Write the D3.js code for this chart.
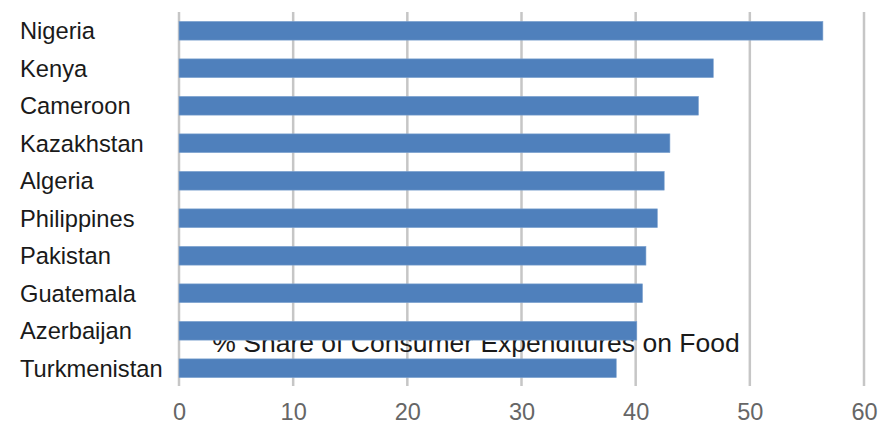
<!DOCTYPE html>
<html>
<head>
<meta charset="utf-8">
<script src="https://cdn.jsdelivr.net/npm/d3@7/dist/d3.min.js"></script>
<style>
  html, body { margin: 0; padding: 0; background: #ffffff; }
  svg { display: block; font-family: "Liberation Sans", Arial, sans-serif; }
</style>
</head>
<body>
<svg id="chart" width="891" height="425"></svg>
<script>
// Countries, top to bottom
const countries = ["Nigeria", "Kenya", "Cameroon", "Kazakhstan", "Algeria",
                   "Philippines", "Pakistan", "Guatemala", "Azerbaijan", "Turkmenistan"];
// % share of consumer expenditures spent on food
const foodShare = [56.4, 46.8, 45.5, 43.0, 42.5, 41.9, 40.9, 40.6, 40.1, 38.3];
const xTicks = [0, 10, 20, 30, 40, 50, 60];
const chartTitle = "% Share of Consumer Expenditures on Food";

const svg = d3.select("#chart");
const plot = { left: 179, right: 864, top: 12, bottom: 387 };

const x = d3.scaleLinear().domain([0, 60]).range([plot.left, plot.right]);
const y = d3.scaleBand().domain(countries).range([plot.top, plot.bottom]).paddingInner(0.5).paddingOuter(0.25);

// vertical gridlines
svg.append("g")
  .selectAll("line")
  .data(xTicks)
  .join("line")
  .attr("x1", d => x(d)).attr("x2", d => x(d))
  .attr("y1", plot.top).attr("y2", plot.bottom - 1)
  .attr("stroke", "#c6c6c6")
  .attr("stroke-width", 2.5);

// tick labels along the bottom
const xAxis = d3.axisBottom(x).tickValues(xTicks).tickSize(0).tickPadding(0);
const ax = svg.append("g").attr("transform", `translate(0, 420)`).call(xAxis);
ax.select(".domain").remove();
ax.selectAll("text")
  .attr("font-size", 23.5)
  .attr("fill", "#666666")
  .attr("dy", 0)
  .attr("font-family", "'Liberation Sans', Arial, sans-serif");

// chart title (sits beneath the bars)
svg.append("text")
  .attr("x", 476)
  .attr("y", 352)
  .attr("text-anchor", "middle")
  .attr("font-size", 26.5)
  .attr("fill", "#1a1a1a")
  .text(chartTitle);

// bars
svg.append("g")
  .selectAll("rect")
  .data(countries)
  .join("rect")
  .attr("x", x(0))
  .attr("y", d => y(d))
  .attr("width", (d, i) => x(foodShare[i]) - x(0))
  .attr("height", y.bandwidth())
  .attr("fill", "#4f80bc")
  .attr("stroke", "#7fa3d0")
  .attr("stroke-width", 0.6);

// category labels
svg.append("g")
  .selectAll("text")
  .data(countries)
  .join("text")
  .attr("x", 20)
  .attr("y", d => y(d) + y.bandwidth() / 2)
  .attr("dy", "0.35em")
  .attr("font-size", 23.7)
  .attr("fill", "#1a1a1a")
  .text(d => d);
</script>
</body>
</html>
